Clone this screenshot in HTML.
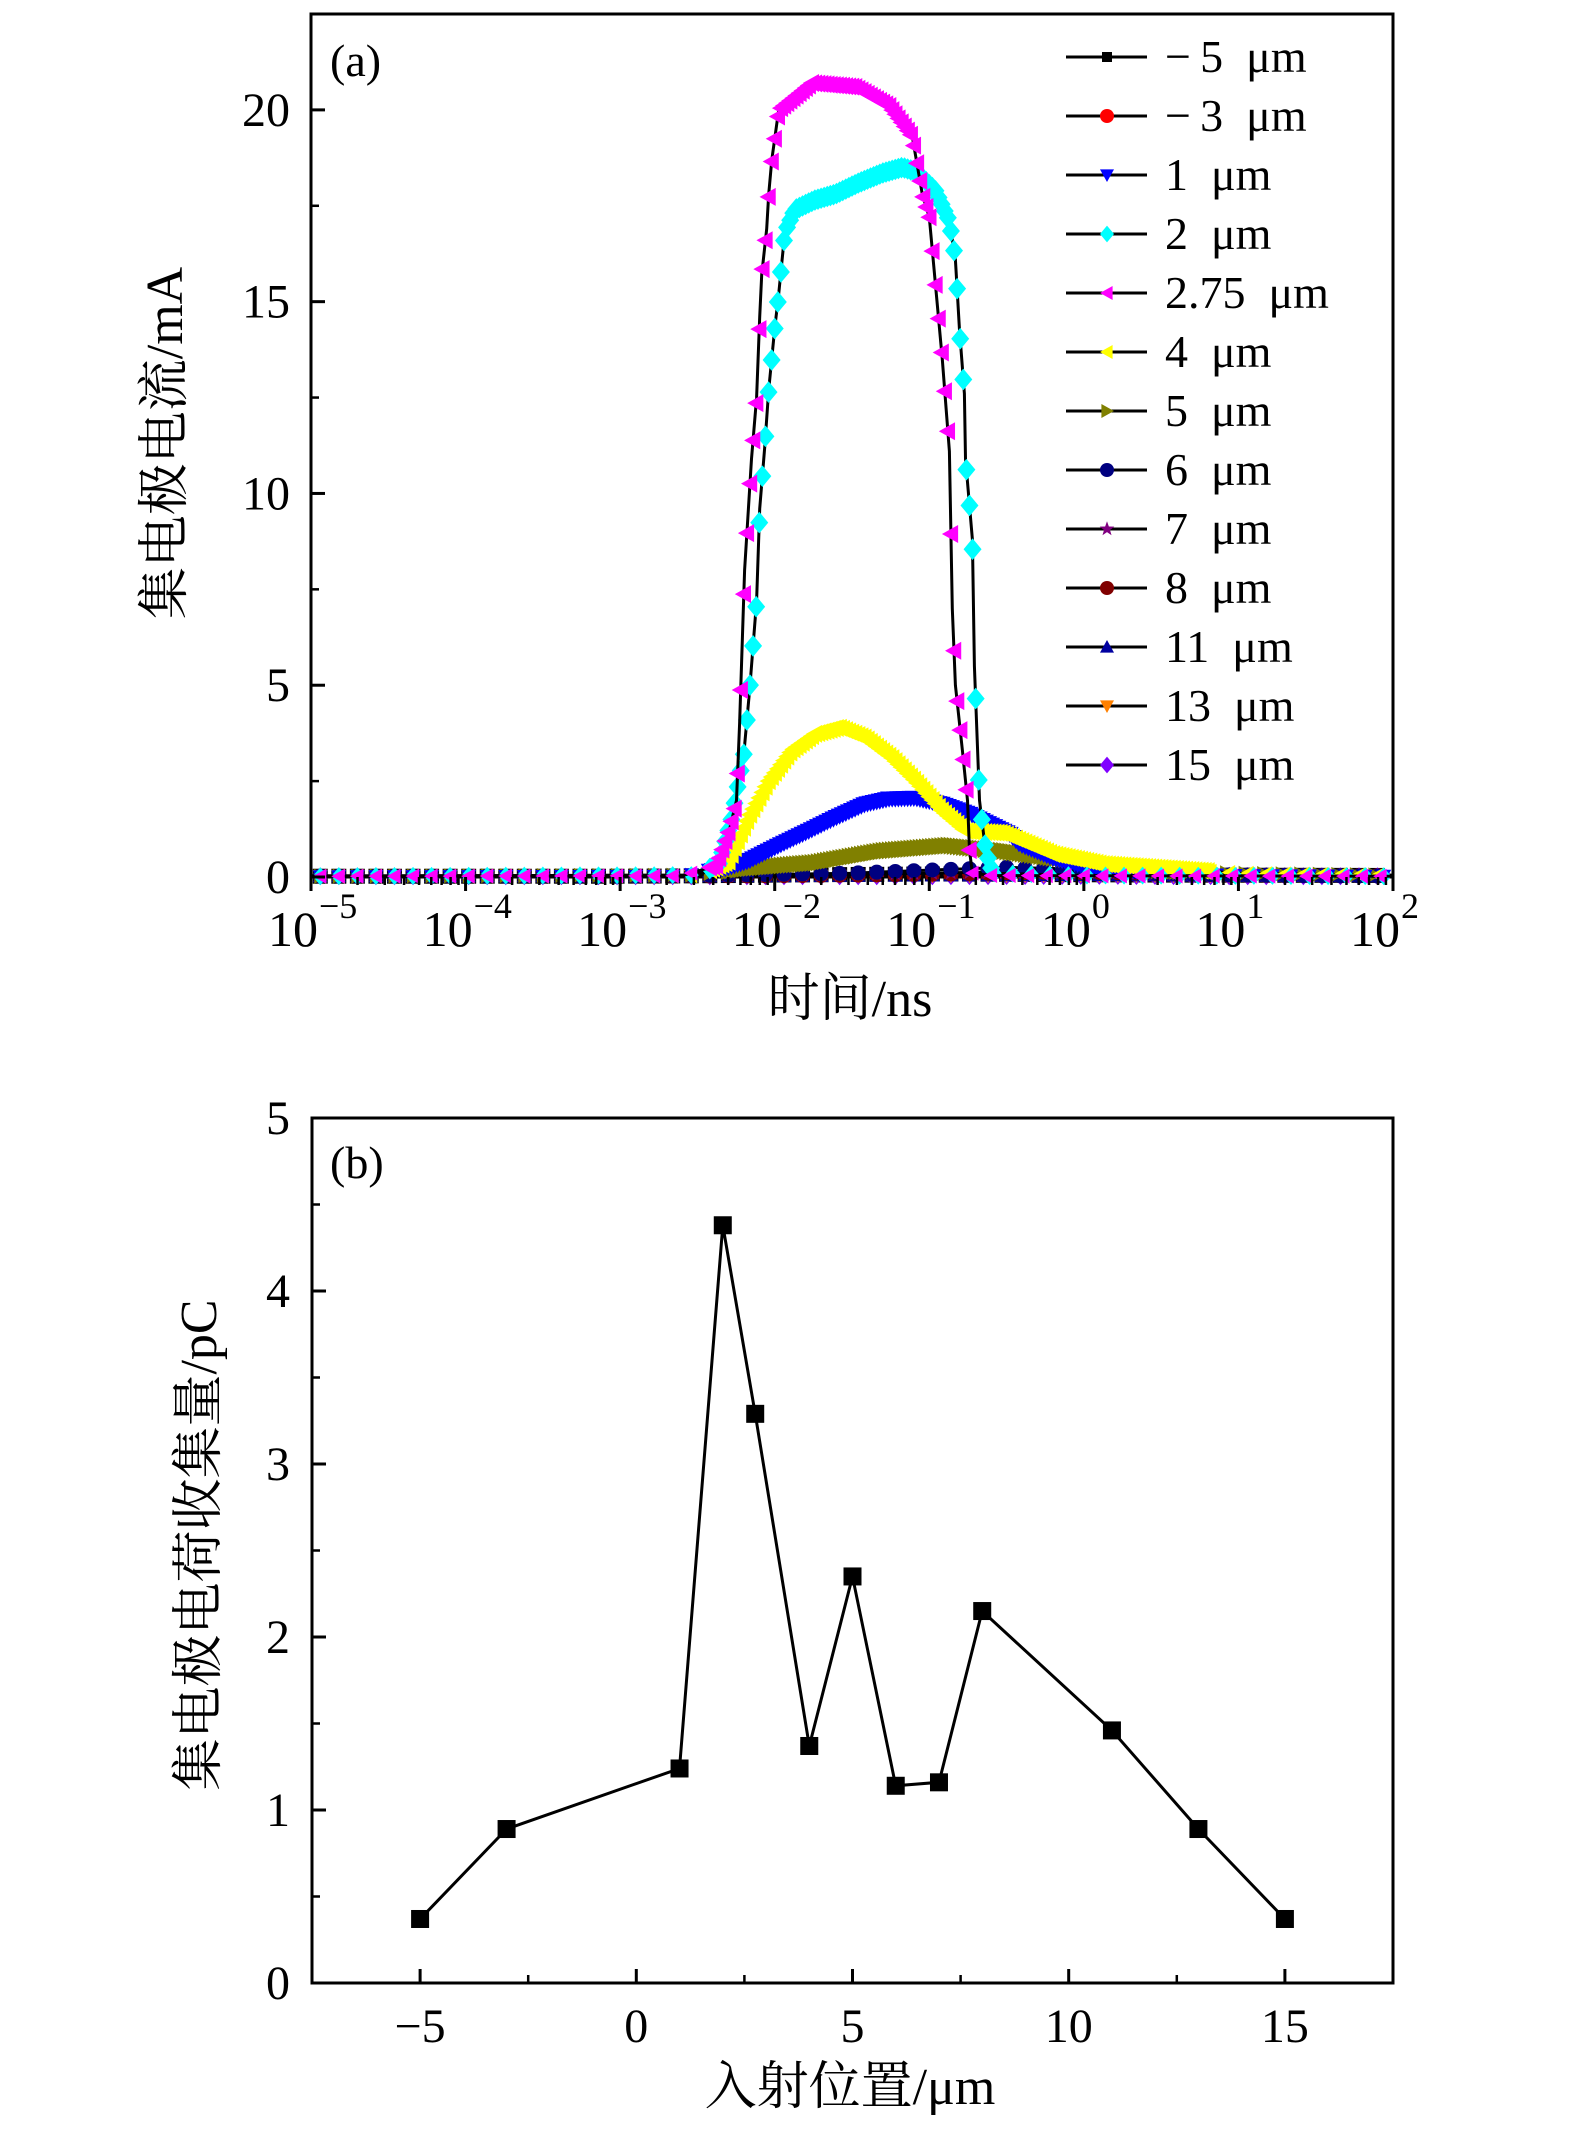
<!DOCTYPE html>
<html><head><meta charset="utf-8">
<style>
html,body{margin:0;padding:0;background:#fff;}
svg{display:block;}
text{font-family:"Liberation Serif","Noto Serif CJK SC","Noto Sans CJK SC",serif;fill:#000;}
</style></head>
<body>
<svg id="chart" width="1575" height="2136" viewBox="0 0 1575 2136" xmlns="http://www.w3.org/2000/svg">
<g id="pa"></g>
<g id="pb"></g>
</svg>
<script>
// ---------- Panel (a) data: log10(time/ns) and current (mA) ----------
const seriesNames = ["−\u20095\u2002μm","−\u20093\u2002μm","1\u2002μm","2\u2002μm","2.75\u2002μm","4\u2002μm","5\u2002μm","6\u2002μm","7\u2002μm","8\u2002μm","11\u2002μm","13\u2002μm","15\u2002μm"];
const seriesColors = ["#000000","#ff0000","#0000ff","#00ffff","#ff00ff","#ffff00","#808000","#000080","#800080","#800000","#0000a0","#ff8000","#8000ff"];
const seriesShapes = ["square","circle","tri-down","diamond","tri-left","tri-left","tri-right","circle","star","circle","tri-up","tri-down","diamond"];

const tM5 = [-5,-3,-2.5,-2,-1,0,0.5,2];
const vM5 = [0.02,0.02,0.03,0.05,0.08,0.06,0.05,0.04];
const tM3 = [-5,-3,-2,-1,0,1,2];
const vM3 = [0.02,0.02,0.04,0.06,0.06,0.04,0.03];
const t1 = [-5,-2.6,-2.32,-2.17,-1.955,-1.78,-1.61,-1.415,-1.26,-1.09,-0.916,-0.74,-0.48,-0.416,-0.2,0.01,0.5,1,2];
const v1 = [0.02,0.03,0.23,0.42,0.86,1.2,1.54,1.9,2.04,2.06,1.9,1.64,1.12,0.86,0.5,0.29,0.1,0.05,0.03];
const t2 = [-5,-2.5,-2.36,-2.28,-2.2,-2.162,-2.117,-2.097,-2.065,-2.039,-2.0,-1.974,-1.935,-1.87,-1.74,-1.61,-1.455,-1.305,-1.175,-1.09,-0.961,-0.87,-0.831,-0.805,-0.773,-0.766,-0.721,-0.708,-0.675,-0.636,-0.59,0,2];
const v2 = [0.02,0.05,0.35,1.5,3.2,4.9,7.2,9.6,11.2,12.7,14.3,15.2,16.8,17.4,17.65,17.8,18.1,18.35,18.5,18.4,17.9,17.1,16.1,14.3,12.6,10.9,8.8,5.5,2.0,0.7,0.1,0.04,0.02];
const t275 = [-5,-2.6,-2.377,-2.292,-2.247,-2.227,-2.195,-2.15,-2.117,-2.097,-2.084,-2.052,-2.039,-2.019,-1.974,-1.76,-1.481,-1.26,-1.11,-1.045,-1.0,-0.916,-0.87,-0.851,-0.831,-0.786,-0.753,-0.74,-0.721,-0.6,0,2];
const v275 = [0.02,0.03,0.3,1.25,2.0,4.0,8.0,10.9,12.5,14.6,15.7,16.9,17.8,18.7,20.0,20.7,20.6,20.1,19.3,17.8,17.2,13.5,11.1,7.0,5.0,3.3,2.0,0.7,0.1,0.04,0.03,0.02];
const t4 = [-5,-2.5,-2.3,-2.17,-2.04,-1.89,-1.74,-1.585,-1.415,-1.24,-1.09,-0.916,-0.766,-0.526,-0.2,0.12,1,2];
const v4 = [0.02,0.03,0.4,1.55,2.5,3.3,3.73,3.9,3.63,3.1,2.5,1.72,1.2,1.15,0.6,0.34,0.1,0.04];
const t5 = [-5,-2.5,-2.17,-1.74,-1.305,-0.87,-0.526,-0.2,0.01,0.34,1,2];
const v5 = [0.02,0.05,0.23,0.37,0.68,0.82,0.68,0.5,0.42,0.2,0.1,0.05];
const t6 = [-5,-3,-2.3,-1.5,-1,-0.5,0,0.5,1,2];
const v6 = [0.02,0.02,0.05,0.1,0.18,0.25,0.2,0.1,0.05,0.02];
const t7 = [-5,-3,-2,-1,-0.3,0.3,1,2];
const v7 = [0.02,0.02,0.04,0.1,0.16,0.12,0.05,0.02];
const t8 = [-5,-3,-2,-1,-0.2,0.5,1,2];
const v8 = [0.02,0.02,0.03,0.07,0.13,0.1,0.05,0.02];
const t11 = [-5,-2,-1,0,1,2];
const v11 = [0.02,0.02,0.04,0.05,0.03,0.02];
const t13 = [-5,-2,-1,0,1,2];
const v13 = [0.03,0.03,0.03,0.04,0.03,0.03];
const t15 = [-5,-2,-1,0,1,2];
const v15 = [0.02,0.02,0.02,0.03,0.02,0.02];
const seriesT = [tM5,tM3,t1,t2,t275,t4,t5,t6,t7,t8,t11,t13,t15];
const seriesV = [vM5,vM3,v1,v2,v275,v4,v5,v6,v7,v8,v11,v13,v15];

const yTicksA = [0,5,10,15,20];
const xDecadesA = [-5,-4,-3,-2,-1,0,1,2];

// ---------- Panel (b) data ----------
const positionsB = [-5,-3,1,2,2.75,4,5,6,7,8,11,13,15];
const chargeB = [0.37,0.89,1.24,4.38,3.29,1.37,2.35,1.14,1.16,2.15,1.46,0.89,0.37];
const xTicksB = [-5,0,5,10,15];
const yTicksB = [0,1,2,3,4,5];

const NS = "http://www.w3.org/2000/svg";
function mk(parent, tag, attrs, txt){
  const e = document.createElementNS(NS, tag);
  for (const k in attrs) e.setAttribute(k, attrs[k]);
  if (txt !== undefined) e.textContent = txt;
  parent.appendChild(e);
  return e;
}

const A = {l:311, r:1393, t:14, b:877, xmin:-5, xmax:2, ymin:0, ymax:22.5};
function ax(lt){ return A.l + (lt - A.xmin)/(A.xmax - A.xmin)*(A.r - A.l); }
function ay(v){ return A.b - (v - A.ymin)/(A.ymax - A.ymin)*(A.b - A.t); }
const B = {l:312, r:1393, t:1118, b:1983, xmin:-7.5, xmax:17.5, ymin:0, ymax:5};
function bx(x){ return B.l + (x - B.xmin)/(B.xmax - B.xmin)*(B.r - B.l); }
function by(v){ return B.b - (v - B.ymin)/(B.ymax - B.ymin)*(B.b - B.t); }

function interp(ts, vs, t){
  if (t <= ts[0]) return vs[0];
  for (let i=1;i<ts.length;i++){
    if (t <= ts[i]){ const f=(t-ts[i-1])/(ts[i]-ts[i-1]); return vs[i-1]+f*(vs[i]-vs[i-1]); }
  }
  return vs[vs.length-1];
}

function marker(parent, shape, cx, cy, s, color){
  let e;
  if (shape==="square") e = mk(parent,"rect",{x:cx-s,y:cy-s,width:2*s,height:2*s,fill:color});
  else if (shape==="circle") e = mk(parent,"circle",{cx:cx,cy:cy,r:s,fill:color});
  else {
    let p;
    if (shape==="tri-down") p=[[cx-s,cy-s*0.8],[cx+s,cy-s*0.8],[cx,cy+s]];
    else if (shape==="tri-up") p=[[cx-s,cy+s*0.8],[cx+s,cy+s*0.8],[cx,cy-s]];
    else if (shape==="tri-left") p=[[cx+s*0.8,cy-s],[cx+s*0.8,cy+s],[cx-s,cy]];
    else if (shape==="tri-right") p=[[cx-s*0.8,cy-s],[cx-s*0.8,cy+s],[cx+s,cy]];
    else if (shape==="diamond") p=[[cx,cy-s*1.2],[cx+s,cy],[cx,cy+s*1.2],[cx-s,cy]];
    else {
      p=[]; for(let k=0;k<10;k++){const r=k%2?s*0.45:s*1.1;const a=-Math.PI/2+k*Math.PI/5;p.push([cx+r*Math.cos(a),cy+r*Math.sin(a)]);}
    }
    e = mk(parent,"polygon",{points:p.map(q=>q.join(",")).join(" "),fill:color});
  }
  return e;
}

const pa = document.getElementById("pa");
const fa = mk(pa,"rect",{x:A.l,y:A.t,width:A.r-A.l,height:A.b-A.t,fill:"none",stroke:"#000","stroke-width":3});



const order = [0,1,12,11,10,9,8,7,6,2,5,3,4];
order.forEach(i=>{
  const g = mk(pa,"g",{});
  
  
  const ts=seriesT[i], vs=seriesV[i];
  const d = ts.map((t,k)=>(k?"L":"M")+ax(t).toFixed(1)+","+ay(vs[k]).toFixed(1)).join(" ");
  const ln = mk(g,"path",{d:d,fill:"none",stroke:"#000","stroke-width":3});
  
  
  let t = -4.94;
  const big = (i>=2 && i<=6);
  while (t <= 1.97){
    const v = interp(ts, vs, t);
    const dense = big && v > 0.15;
    const m = marker(g, seriesShapes[i], ax(t), ay(v), dense?9:7.5, seriesColors[i]);
    
    
    t += dense ? 0.02 : 0.12;
  }
});

yTicksA.forEach(v=>{
  const y=ay(v);
  const tk = mk(pa,"line",{x1:A.l,x2:A.l+14,y1:y,y2:y,stroke:"#000","stroke-width":3});
  
  
  const lb = mk(pa,"text",{x:290,y:y+16,"text-anchor":"end","font-size":48},String(v));
  
  
  if (v<20){
    const ym=ay(v+2.5);
    const mt = mk(pa,"line",{x1:A.l,x2:A.l+8,y1:ym,y2:ym,stroke:"#000","stroke-width":2.5});
    
    
  }
});
xDecadesA.forEach((dcd,k)=>{
  const x=ax(dcd);
  const tk = mk(pa,"line",{x1:x,x2:x,y1:A.b,y2:A.b+14,stroke:"#000","stroke-width":3});
  
  
  const lb = mk(pa,"text",{x:x-18,y:946,"text-anchor":"middle","font-size":50},"10");
  
  
  const ex = mk(pa,"text",{x:x+8,y:918,"text-anchor":"start","font-size":36},dcd<0?"−"+(-dcd):String(dcd));
  
  
  if (k < xDecadesA.length-1){
    for (let m=2;m<=9;m++){
      const xm = ax(dcd+Math.log10(m));
      const mt = mk(pa,"line",{x1:xm,x2:xm,y1:A.b,y2:A.b+8,stroke:"#000","stroke-width":2.5});
      
      
    }
  }
});
let tt = mk(pa,"text",{x:330,y:76,"font-size":46},"(a)");


tt = mk(pa,"text",{x:850,y:1016,"text-anchor":"middle","font-size":52},"时间/ns");


tt = mk(pa,"text",{x:0,y:0,"text-anchor":"middle","font-size":52,transform:"translate(182,443) rotate(-90)"},"集电极电流/mA");



const lg = mk(pa,"g",{});


seriesNames.forEach((nm,i)=>{
  const y = 57 + i*59;
  const e = mk(lg,"g",{});
  
  
  mk(e,"line",{x1:1066,x2:1147,y1:y,y2:y,stroke:"#000","stroke-width":3});
  marker(e, seriesShapes[i], 1107, y, i===0?5:7, seriesColors[i]);
  mk(e,"text",{x:1165,y:y+15,"font-size":46},nm);
});

// ---------- Panel b ----------
const pb = document.getElementById("pb");
const fb = mk(pb,"rect",{x:B.l,y:B.t,width:B.r-B.l,height:B.b-B.t,fill:"none",stroke:"#000","stroke-width":3});


yTicksB.forEach(v=>{
  const y=by(v);
  const tk = mk(pb,"line",{x1:B.l,x2:B.l+14,y1:y,y2:y,stroke:"#000","stroke-width":3});
  
  
  const lb = mk(pb,"text",{x:290,y:y+16,"text-anchor":"end","font-size":48},String(v));
  
  
  if (v<5){
    const ym=by(v+0.5);
    const mt = mk(pb,"line",{x1:B.l,x2:B.l+8,y1:ym,y2:ym,stroke:"#000","stroke-width":2.5});
    
    
  }
});
xTicksB.forEach(v=>{
  const x=bx(v);
  const tk = mk(pb,"line",{x1:x,x2:x,y1:B.b,y2:B.b-14,stroke:"#000","stroke-width":3});
  
  
  const lb = mk(pb,"text",{x:x,y:2042,"text-anchor":"middle","font-size":48},v<0?"−"+(-v):String(v));
  
  
  const xm=bx(v+2.5);
  const mt = mk(pb,"line",{x1:xm,x2:xm,y1:B.b,y2:B.b-8,stroke:"#000","stroke-width":2.5});
  
  
});
const xm0=bx(xTicksB[0]-2.5);
const mt0 = mk(pb,"line",{x1:xm0,x2:xm0,y1:B.b,y2:B.b-8,stroke:"#000","stroke-width":2.5});



const dB = positionsB.map((x,k)=>(k?"L":"M")+bx(x).toFixed(1)+","+by(chargeB[k]).toFixed(1)).join(" ");
const lnB = mk(pb,"path",{d:dB,fill:"none",stroke:"#000","stroke-width":3});


positionsB.forEach((x,k)=>{
  const r = mk(pb,"rect",{x:bx(x)-9,y:by(chargeB[k])-9,width:18,height:18,fill:"#000"});
  
  
});
tt = mk(pb,"text",{x:330,y:1178,"font-size":46},"(b)");


tt = mk(pb,"text",{x:850,y:2104,"text-anchor":"middle","font-size":52},"入射位置/μm");


tt = mk(pb,"text",{x:0,y:0,"text-anchor":"middle","font-size":52,transform:"translate(216,1545) rotate(-90)"},"集电极电荷收集量/pC");


</script>
</body></html>
